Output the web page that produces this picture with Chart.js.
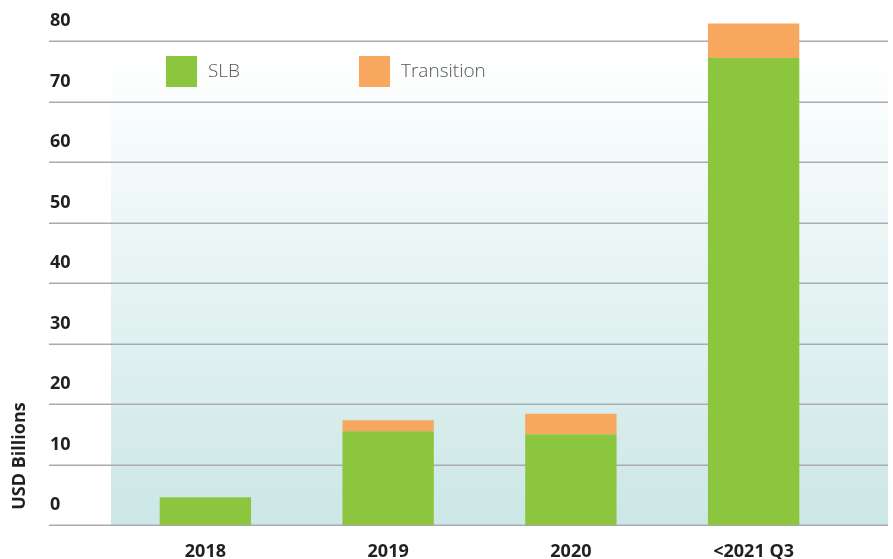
<!DOCTYPE html>
<html>
<head>
<meta charset="utf-8">
<script src="https://cdn.jsdelivr.net/npm/chart.js@4.4.0/dist/chart.umd.min.js"></script>
<style>
  html, body { margin: 0; padding: 0; background: #ffffff; }
  #wrap { width: 893px; height: 559px; position: relative; }
</style>
</head>
<body>
<div id="wrap"><canvas id="c" width="893" height="559"></canvas></div>
<script>
const categories = ['2018', '2019', '2020', '<2021 Q3'];
const slbValues = [4.6, 15.5, 15.0, 77.2];
const transitionValues = [0, 1.8, 3.4, 5.7];
const seriesNames = ['SLB', 'Transition'];
const yTickValues = [0, 10, 20, 30, 40, 50, 60, 70, 80];
const yAxisTitle = 'USD Billions';

const GREEN = '#8cc63f';
const ORANGE = '#f8a85e';
const TEXT = '#231f20';
const GRID = '#aaaab5';

const backgroundPlugin = {
  id: 'bgPlugin',
  beforeDatasetsDraw(chart) {
    const ctx = chart.ctx;
    const y = chart.scales.y;
    const yTop = y.getPixelForValue(78);
    const yBot = y.getPixelForValue(0);
    ctx.save();
    const g = ctx.createLinearGradient(0, yTop, 0, yBot);
    g.addColorStop(0, 'rgba(255,255,255,1)');
    g.addColorStop(1, '#cbe7e6');
    ctx.fillStyle = g;
    ctx.fillRect(111, yTop, 888 - 111, yBot - yTop);
    ctx.strokeStyle = GRID;
    ctx.lineWidth = 1.5;
    yTickValues.forEach(v => {
      const py = Math.round(y.getPixelForValue(v)) + 0.25;
      ctx.beginPath();
      ctx.moveTo(49, py);
      ctx.lineTo(888, py);
      ctx.stroke();
    });
    ctx.restore();
  },
  afterDraw(chart) {
    const ctx = chart.ctx;
    ctx.save();
    ctx.translate(20, 456);
    ctx.rotate(-Math.PI / 2);
    ctx.fillStyle = TEXT;
    ctx.font = 'bold 18px "Open Sans", sans-serif';
    ctx.textAlign = 'center';
    ctx.textBaseline = 'middle';
    ctx.fillText(yAxisTitle, 0, 0);
    ctx.restore();
    ctx.save();
    const legendPos = [{ bx: 166, tx: 208 }, { bx: 359, tx: 401 }];
    chart.data.datasets.forEach((ds, i) => {
      const p = legendPos[i];
      ctx.fillStyle = ds.backgroundColor;
      ctx.fillRect(p.bx, 56, 31, 31);
      ctx.fillStyle = '#555555';
      ctx.font = '300 19px "Open Sans", sans-serif';
      ctx.textAlign = 'left';
      ctx.textBaseline = 'middle';
      ctx.fillText(ds.label, p.tx, 72);
    });
    ctx.restore();
  }
};

new Chart(document.getElementById('c'), {
  type: 'bar',
  data: {
    labels: categories,
    datasets: [
      { label: seriesNames[0], data: slbValues, backgroundColor: GREEN, barPercentage: 0.5, categoryPercentage: 1.0 },
      { label: seriesNames[1], data: transitionValues, backgroundColor: ORANGE, barPercentage: 0.5, categoryPercentage: 1.0 }
    ]
  },
  options: {
    responsive: false,
    animation: false,
    layout: { padding: { left: 50, right: 48, top: 4, bottom: 0 } },
    plugins: { legend: { display: false }, tooltip: { enabled: false } },
    scales: {
      x: {
        stacked: true,
        grid: { display: false },
        border: { display: false },
        ticks: {
          color: TEXT,
          font: { family: '"Open Sans", sans-serif', size: 18, weight: 'bold' },
          padding: 8,
          maxRotation: 0
        },
        afterFit(scale) { scale.height = 34; }
      },
      y: {
        stacked: true,
        min: 0,
        max: 85,
        grid: { display: false },
        border: { display: false },
        afterBuildTicks(scale) {
          scale.ticks = yTickValues.map(v => ({ value: v }));
        },
        ticks: {
          color: TEXT,
          crossAlign: 'far',
          labelOffset: -20,
          padding: 0,
          font: { family: '"Open Sans", sans-serif', size: 18, weight: 'bold' }
        },
        afterFit(scale) { scale.width = 64; }
      }
    }
  },
  plugins: [backgroundPlugin]
});
</script>
</body>
</html>
